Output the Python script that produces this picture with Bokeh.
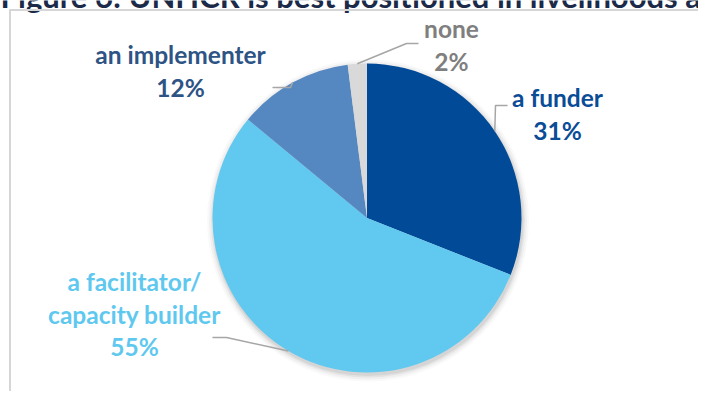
import math
from bokeh.plotting import figure
from bokeh.models import Range1d, ColumnDataSource
from bokeh.core.properties import value
from bokeh.embed import file_html
from bokeh.resources import INLINE

# ---- data ----
title_text = "Figure 6: UNHCR is best positioned in livelihoods as"
categories = ["a funder", "a facilitator/\ncapacity builder", "an implementer", "none"]
shares = [31, 55, 12, 2]
pct_labels = ["31%", "55%", "12%", "2%"]
slice_colors = ["#004A98", "#61C9F0", "#5587C1", "#D9D9D9"]
label_colors = ["#0B4C97", "#5FC8EF", "#2E5385", "#7F7F7F"]

# ---- layout (page pixel coords; data y = H_PAGE - page_y) ----
H_PAGE = 407
W, H = 698, 391
CX, CY, R = 366.5, H_PAGE - 217.5, 154.5
FONT = value("Lato")
FS = "24.5px"
LINE_H = 32.5
TEXT_DY = -9  # empirical baseline correction

# label anchor: (center x, baseline y of first line) in page px
label_pos = [(557, 106), (134, 290), (180, 63), (451, 37)]
# leader elbow points (page px), from label side toward slice
leader_elbows = [
    [(507, 105), (495, 105)],
    [(212, 337), (226, 337)],
    [(272, 87), (290, 87)],
    [(418, 43), (406, 43)],
]

p = figure(width=W, height=H, output_backend="svg", toolbar_location=None,
           x_range=Range1d(0, W), y_range=Range1d(H_PAGE - H, H_PAGE),
           min_border=0)
p.axis.visible = False
p.grid.visible = False
p.outline_line_color = None
p.background_fill_color = "white"

# cut-off title at top
p.text(x=[0], y=[H_PAGE - (4 + TEXT_DY)], text=[title_text], text_font=FONT,
       text_font_style="bold", text_font_size="31px", text_color="#1B2A48",
       text_align="left", text_baseline="alphabetic")

# frame lines (top and left)
p.line([9.5, 9.5], [H_PAGE - 9, 0], line_color="#D6D6D6", line_width=2)
p.line([9, 714], [H_PAGE - 9.5, H_PAGE - 9.5], line_color="#D6D6D6", line_width=2)

# soft shadow
for rr, a in [(161, 0.025), (159, 0.035), (157, 0.05), (155.5, 0.06)]:
    p.circle(x=[CX + 1], y=[CY - 2.5], radius=rr, fill_color="black",
             fill_alpha=a, line_color=None)

total = float(sum(shares))
starts, ends, mids = [], [], []
cum = 0.0
for s in shares:
    a0 = math.pi / 2 - 2 * math.pi * cum / total
    cum += s
    a1 = math.pi / 2 - 2 * math.pi * cum / total
    starts.append(a1)
    ends.append(a0)
    mids.append((a0 + a1) / 2)

src = ColumnDataSource(dict(start=starts, end=ends, color=slice_colors))
p.wedge(x=CX, y=CY, radius=R, start_angle="start", end_angle="end",
        fill_color="color", line_color=None, source=src)

# leader lines
for i, m in enumerate(mids):
    ex = CX + R * math.cos(m)
    ey = CY + R * math.sin(m)
    xs = [pt[0] for pt in leader_elbows[i]] + [ex]
    ys = [H_PAGE - pt[1] for pt in leader_elbows[i]] + [ey]
    p.line(xs, ys, line_color="#A6A6A6", line_width=1.5)

# labels
for i, cat in enumerate(categories):
    lines = cat.split("\n") + [pct_labels[i]]
    lx, ly = label_pos[i]
    for k, t in enumerate(lines):
        p.text(x=[lx], y=[H_PAGE - (ly + k * LINE_H + TEXT_DY)], text=[t],
               text_font=FONT, text_font_style="bold", text_font_size=FS,
               text_color=label_colors[i], text_align="center",
               text_baseline="alphabetic")

open("out.html", "w").write(file_html(p, INLINE))
